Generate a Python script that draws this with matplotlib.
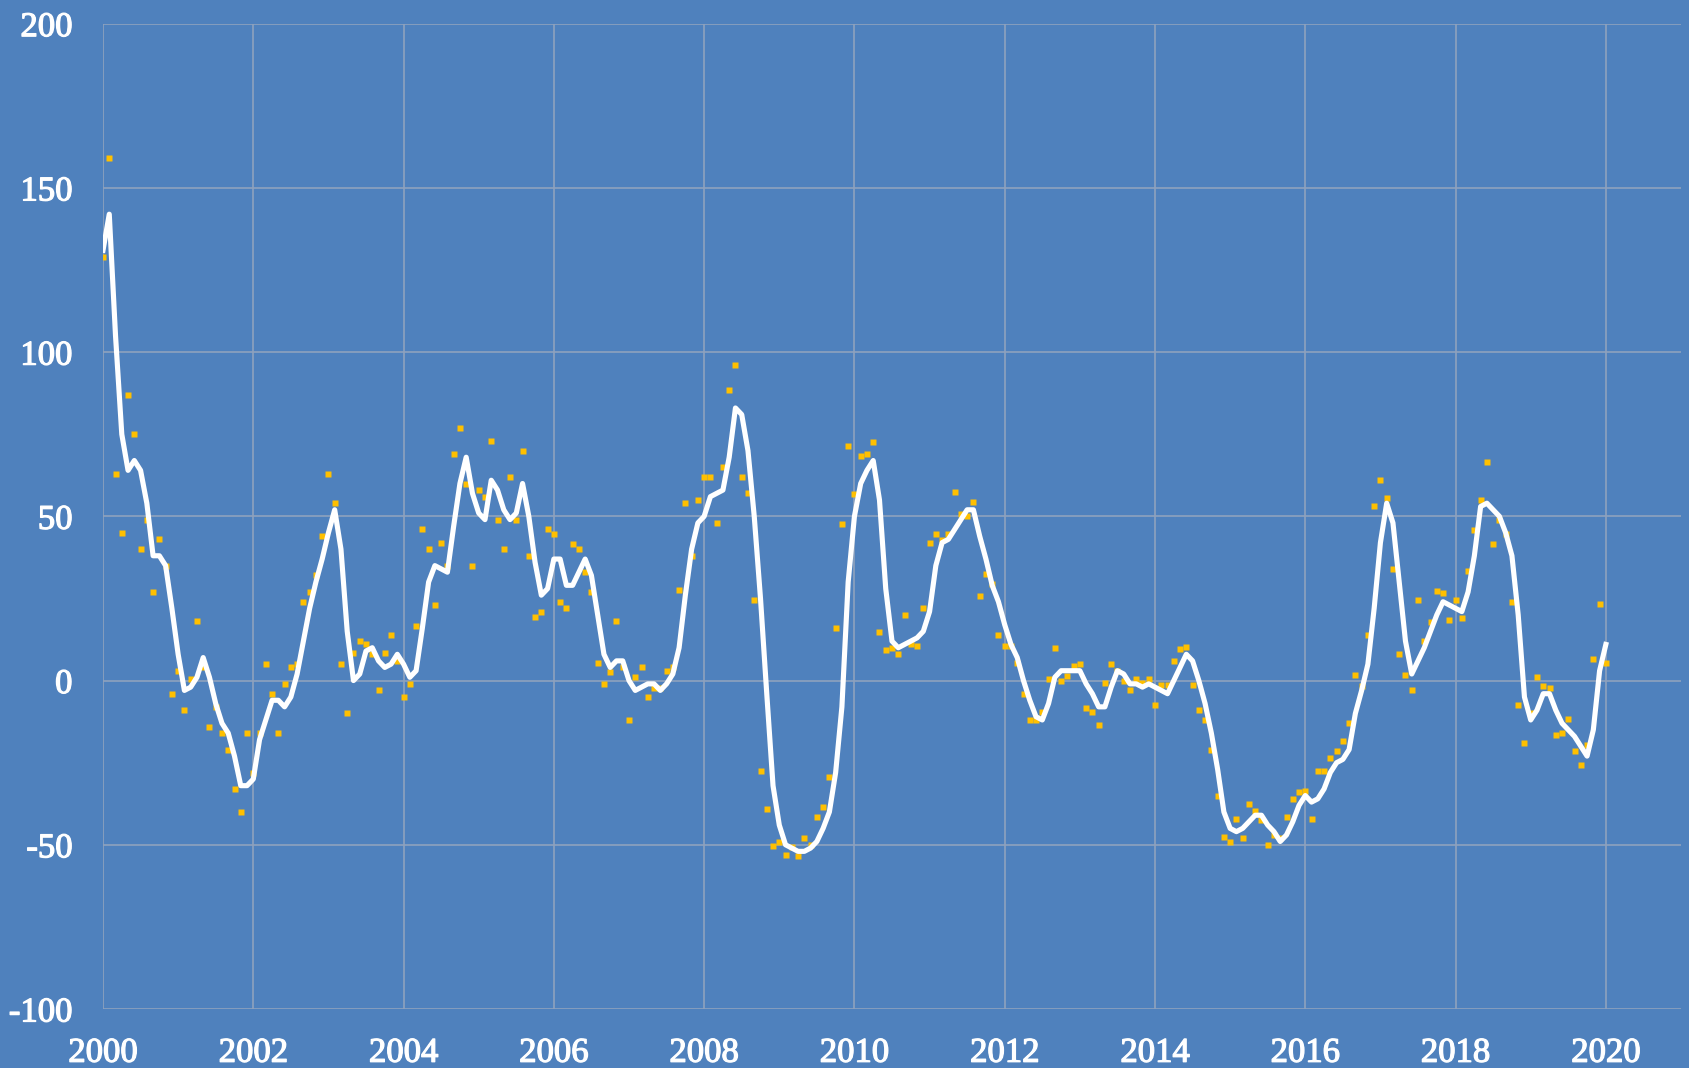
import matplotlib
matplotlib.use("Agg")
import matplotlib.pyplot as plt
import matplotlib.patheffects as pe
import numpy as np

# Monthly observations, Jan 2000 .. Jan 2020 (241 values)
monthly_values = [
    129, 159, 63, 45, 87, 75, 40, 49, 27, 43, 35, -4,            # 2000
    3, -9, 0.5, 18, 4, -14, -8, -16, -21, -33, -40, -16,          # 2001
    -28, -16, 5, -4, -16, -1, 4, 5, 24, 27, 32, 44,               # 2002
    63, 54, 5, -10, 8.5, 12, 11, 8, -3, 8.5, 14, 6,               # 2003
    -5, -1, 16.5, 46, 40, 23, 42, 35, 69, 77, 60, 35,             # 2004
    58, 56, 73, 49, 40, 62, 49, 70, 38, 19.5, 21, 46,             # 2005
    44.5, 24, 22, 41.5, 40, 33, 27, 5.5, -1, 2.5, 18, 4,          # 2006
    -12, 1, 4, -5, -2.4, -2.4, 3, 4, 27.5, 54, 38, 55,            # 2007
    62, 62, 48, 65, 88.5, 96, 62, 57, 24.5, -27.5, -39, -50.4,    # 2008
    -49.3, -53, -50.6, -53.5, -48, -50, -41.4, -38.4, -29.3, 16, 47.6, 71.4,  # 2009
    56.7, 68.3, 69, 72.5, 14.7, 9.2, 9.8, 8, 20, 11, 10.4, 22,    # 2010
    42, 44.5, 42.7, 44.5, 57.3, 50.6, 50, 54.3, 25.6, 32.3, 29.3, 14,  # 2011
    10.4, 10.4, 5.5, -4.2, -12, -12, -9.7, 0.6, 9.8, 0, 1.3, 4.3,  # 2012
    4.9, -8.5, -9.7, -13.4, -0.6, 4.9, 3, 0, -3, 0.6, -0.6, 0.6,   # 2013
    -7.3, -1.2, -1.2, 6, 9.7, 10.3, -1.2, -9, -12, -21, -35, -47.5,  # 2014
    -49.3, -42, -48, -37.7, -39.6, -42.6, -50, -47, -48, -41.4, -36, -34,  # 2015
    -33.5, -42, -27.4, -27.4, -23.7, -21.3, -18.3, -12.8, 1.8, -1.8, 14, 53,  # 2016
    61, 55.5, 34, 8, 1.8, -3, 24.4, 12, 17.7, 27.4, 26.8, 18.3,    # 2017
    24.4, 19, 33.5, 45.7, 55, 66.5, 41.5, 48.8, 44.5, 23.8, -7.3, -19,  # 2018
    -9.8, 1.2, -1.8, -2.4, -16.5, -16, -11.6, -21.3, -25.6, -19.5, 6.7, 23.2,  # 2019
    5.5,                                                            # 2020
]

# Smoothed trend line
trend_values = [
    131, 142, 105, 75, 64, 67, 64, 54, 38, 38, 35, 22,
    8, -3, -2, 1, 7, 1, -7, -13, -16, -23, -32, -32,
    -30, -18, -12, -6, -6, -8, -5, 2, 12, 22, 30, 37,
    45, 52, 40, 15, 0, 2, 9, 10, 6, 4, 5, 8,
    5, 1, 3, 16, 30, 35, 34, 33, 47, 60, 68, 57,
    51, 49, 61, 58, 52, 49, 51, 60, 50, 36, 26, 28,
    37, 37, 29, 29, 33, 37, 32, 20, 8, 4, 6, 6,
    0, -3, -2, -1, -1, -3, -1, 2, 10, 26, 40, 48,
    50, 56, 57, 58, 68, 83, 81, 70, 50, 25, -4, -32,
    -44, -50, -51, -52, -52, -51, -49, -45, -40, -28, -8, 30,
    50, 60, 64, 67, 55, 28, 12, 10, 11, 12, 13, 15,
    21, 35, 42, 43, 46, 49, 52, 52, 44, 37, 29, 24,
    17, 11, 7, 0, -6, -11, -12, -7, 1, 3, 3, 3,
    3, -1, -4, -8, -8, -2, 3, 2, -1, -1, -2, -1,
    -2, -3, -4, 0, 4, 8, 6, 0, -7, -16, -27, -40,
    -45, -46, -45, -43, -41, -41, -44, -46, -49, -47, -43, -38,
    -35, -37, -36, -33, -28, -25, -24, -21, -10, -3, 5, 22,
    42, 54, 48, 30, 12, 2, 6, 10, 15, 20, 24, 23,
    22, 21, 27, 38, 53, 54, 52, 50, 45, 38, 20, -5,
    -12, -9, -4, -4, -9, -13, -15, -17, -20, -23, -15, 3,
    11,
]

start_year = 2000
x_ticks = list(range(2000, 2021, 2))
y_ticks = [-100, -50, 0, 50, 100, 150, 200]

bg = "#4F81BD"
grid_col = "#8EA2BD"
marker_col = "#FFC000"

dates = start_year + np.arange(len(monthly_values)) / 12.0
dates_t = start_year + np.arange(len(trend_values)) / 12.0

fig = plt.figure(figsize=(16.9, 10.68), dpi=100, facecolor=bg)
ax = fig.add_axes([103/1690, 1 - 1009/1068, (1681 - 103)/1690, (1009 - 23.7)/1068])
ax.set_facecolor(bg)

ax.plot(dates, monthly_values, linestyle="none", marker="s", markersize=4.9,
        markerfacecolor=marker_col, markeredgecolor="none", zorder=2)
ax.plot(dates_t, trend_values, color="white", linewidth=3.7, zorder=3,
        solid_joinstyle="round")

ax.set_xlim(2000, 2021)
ax.set_ylim(-100, 200)
ax.set_xticks(x_ticks)
ax.set_yticks(y_ticks)
ax.set_xticklabels([str(t) for t in x_ticks])
ax.set_yticklabels([str(t) for t in y_ticks])
ax.grid(True, color=grid_col, linewidth=1.2, zorder=0)
ax.set_axisbelow(True)
for s in ax.spines.values():
    s.set_visible(False)
ax.tick_params(axis="both", length=0, colors="white", labelsize=25)
ax.tick_params(axis="x", pad=20)
ax.tick_params(axis="y", pad=22)
for lab in ax.get_xticklabels() + ax.get_yticklabels():
    lab.set_fontfamily("Liberation Serif")
    lab.set_color("white")
    lab.set_path_effects([pe.withStroke(linewidth=0.9, foreground="white")])

fig.savefig("out.png", dpi=100, facecolor=bg)
